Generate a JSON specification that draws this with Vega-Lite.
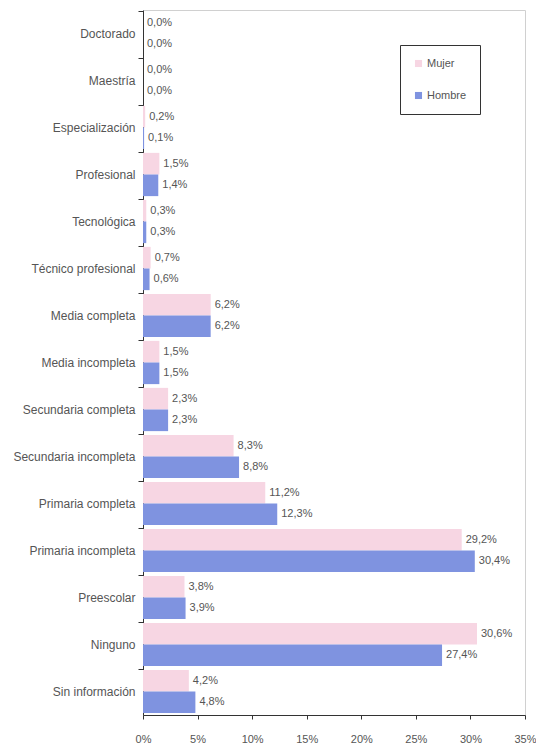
{
  "$schema": "https://vega.github.io/schema/vega-lite/v6.json",
  "autosize": "none",
  "width": 382,
  "height": 705,
  "padding": {"left": 143, "top": 10, "right": 11, "bottom": 37},
  "background": "white",
  "config": {
    "locale": {"number": {"decimal": ",", "thousands": ".", "grouping": [3], "currency": ["", ""]}},
    "view": {"stroke": "#d0d0d0"},
    "font": "Liberation Sans",
    "text": {"font": "Liberation Sans"}
  },
  "data": {"values": [
    {"nivel": "Doctorado", "sexo": "Mujer", "valor": 0.0},
    {"nivel": "Doctorado", "sexo": "Hombre", "valor": 0.0},
    {"nivel": "Maestría", "sexo": "Mujer", "valor": 0.0},
    {"nivel": "Maestría", "sexo": "Hombre", "valor": 0.0},
    {"nivel": "Especialización", "sexo": "Mujer", "valor": 0.002},
    {"nivel": "Especialización", "sexo": "Hombre", "valor": 0.001},
    {"nivel": "Profesional", "sexo": "Mujer", "valor": 0.015},
    {"nivel": "Profesional", "sexo": "Hombre", "valor": 0.014},
    {"nivel": "Tecnológica", "sexo": "Mujer", "valor": 0.003},
    {"nivel": "Tecnológica", "sexo": "Hombre", "valor": 0.003},
    {"nivel": "Técnico profesional", "sexo": "Mujer", "valor": 0.007},
    {"nivel": "Técnico profesional", "sexo": "Hombre", "valor": 0.006},
    {"nivel": "Media completa", "sexo": "Mujer", "valor": 0.062},
    {"nivel": "Media completa", "sexo": "Hombre", "valor": 0.062},
    {"nivel": "Media incompleta", "sexo": "Mujer", "valor": 0.015},
    {"nivel": "Media incompleta", "sexo": "Hombre", "valor": 0.015},
    {"nivel": "Secundaria completa", "sexo": "Mujer", "valor": 0.023},
    {"nivel": "Secundaria completa", "sexo": "Hombre", "valor": 0.023},
    {"nivel": "Secundaria incompleta", "sexo": "Mujer", "valor": 0.083},
    {"nivel": "Secundaria incompleta", "sexo": "Hombre", "valor": 0.088},
    {"nivel": "Primaria completa", "sexo": "Mujer", "valor": 0.112},
    {"nivel": "Primaria completa", "sexo": "Hombre", "valor": 0.123},
    {"nivel": "Primaria incompleta", "sexo": "Mujer", "valor": 0.292},
    {"nivel": "Primaria incompleta", "sexo": "Hombre", "valor": 0.304},
    {"nivel": "Preescolar", "sexo": "Mujer", "valor": 0.038},
    {"nivel": "Preescolar", "sexo": "Hombre", "valor": 0.039},
    {"nivel": "Ninguno", "sexo": "Mujer", "valor": 0.306},
    {"nivel": "Ninguno", "sexo": "Hombre", "valor": 0.274},
    {"nivel": "Sin información", "sexo": "Mujer", "valor": 0.042},
    {"nivel": "Sin información", "sexo": "Hombre", "valor": 0.048}
  ]},
  "encoding": {
    "y": {
      "field": "nivel", "type": "nominal", "sort": null, "title": null,
      "scale": {"paddingInner": 0.08, "paddingOuter": 0.04},
      "axis": {
        "bandPosition": 0, "tickSize": 5, "tickColor": "#333", "domainColor": "#333",
        "labelColor": "#555", "labelFontSize": 12, "labelPadding": 3, "labelLimit": 140
      }
    },
    "yOffset": {"field": "sexo", "type": "nominal", "sort": ["Mujer", "Hombre"], "scale": {"paddingInner": 0}},
    "x": {
      "field": "valor", "type": "quantitative", "title": null,
      "scale": {"domain": [0, 0.35], "nice": false},
      "axis": {
        "format": ".0%", "values": [0, 0.05, 0.1, 0.15, 0.2, 0.25, 0.3, 0.35],
        "labelOverlap": false, "labelBound": false, "labelFlush": false,
        "grid": false, "domainColor": "#333", "tickColor": "#333", "tickSize": 4,
        "labelColor": "#555", "labelFontSize": 11, "labelPadding": 14
      }
    }
  },
  "layer": [
    {
      "mark": {"type": "bar", "stroke": null},
      "encoding": {
        "color": {
          "field": "sexo", "type": "nominal", "sort": ["Mujer", "Hombre"],
          "scale": {"domain": ["Mujer", "Hombre"], "range": ["#f7d6e3", "#7f93e0"]},
          "legend": {
            "title": null, "orient": "none", "legendX": 257, "legendY": 35,
            "symbolType": "square", "symbolSize": 50, "strokeColor": "#333",
            "padding": 13, "rowPadding": 20, "labelFontSize": 11, "labelColor": "#555",
            "fillColor": "white", "symbolStrokeWidth": 0, "labelOffset": 3
          }
        }
      }
    },
    {
      "mark": {"type": "text", "align": "left", "dx": 4, "fontSize": 11, "color": "#555"},
      "encoding": {
        "text": {"field": "valor", "type": "quantitative", "format": ".1%"}
      }
    }
  ]
}
